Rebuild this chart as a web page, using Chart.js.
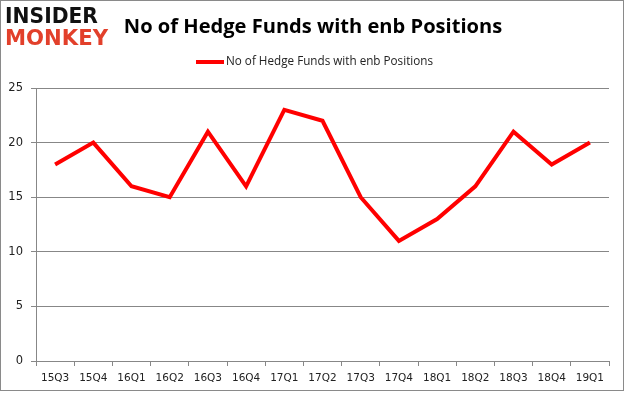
<!DOCTYPE html>
<html>
<head>
<meta charset="utf-8">
<script src="https://cdn.jsdelivr.net/npm/chart.js@4/dist/chart.umd.min.js"></script>
<style>
  html, body { margin: 0; padding: 0; background: #fff; }
  #wrap { width: 625px; height: 395px; }
</style>
</head>
<body>
<div id="wrap"><canvas id="myChart" width="625" height="395"></canvas></div>
<script>
// --- Data ---
const quarters = ["15Q3", "15Q4", "16Q1", "16Q2", "16Q3", "16Q4", "17Q1", "17Q2",
  "17Q3", "17Q4", "18Q1", "18Q2", "18Q3", "18Q4", "19Q1"];
const hedgeFunds = [18, 20, 16, 15, 21, 16, 23, 22, 15, 11, 13, 16, 21, 18, 20];
const seriesName = "No of Hedge Funds with enb Positions";
const chartTitle = "No of Hedge Funds with enb Positions";

const gridGray = "#878787";
const textColor = "#222";

// fit a string to a given width by adjusting the font size
function fitFont(ctx, text, weight, family, width) {
  ctx.font = weight + " 20px " + family;
  const w = ctx.measureText(text).width;
  return 20 * width / w;
}

// --- Decorations: border, logo, title, legend ---
const decor = {
  id: "decor",
  beforeDraw(chart) {
    const c = chart.ctx;
    c.save();
    c.fillStyle = "#fff";
    c.fillRect(0, 0, chart.width, chart.height);
    c.strokeStyle = "#8a8a8a";
    c.lineWidth = 1;
    c.strokeRect(0.5, 0.5, 623, 390);
    c.restore();
  },
  afterDraw(chart) {
    const c = chart.ctx;
    c.save();
    c.textBaseline = "middle";

    // logo
    const logoFam = "'DejaVu Sans'";
    c.textAlign = "left";
    c.fillStyle = "#111";
    let fs = fitFont(c, "INSIDER", "bold", logoFam, 93);
    c.font = "bold " + fs.toFixed(1) + "px " + logoFam;
    c.save();
    c.translate(5, 17);
    c.scale(1, 22 / fs);
    c.fillText("INSIDER", 0, 0);
    c.restore();
    c.fillStyle = "#e2402b";
    fs = fitFont(c, "MONKEY", "bold", logoFam, 103);
    c.font = "bold " + fs.toFixed(1) + "px " + logoFam;
    c.save();
    c.translate(5, 39);
    c.scale(1, 22 / fs);
    c.fillText("MONKEY", 0, 0);
    c.restore();

    // title
    const fam = "'Open Sans'";
    c.fillStyle = "#000";
    c.textAlign = "center";
    fs = fitFont(c, chartTitle, "bold", fam, 378);
    c.font = "bold " + fs.toFixed(1) + "px " + fam;
    c.fillText(chartTitle, 313, 27);

    // legend
    c.fillStyle = "#ff0000";
    c.fillRect(196, 60, 28, 4);
    c.fillStyle = textColor;
    c.textAlign = "left";
    fs = fitFont(c, seriesName, "normal", fam, 207);
    c.font = fs.toFixed(1) + "px " + fam;
    c.fillText(seriesName, 226, 62);
    c.restore();
  }
};

const ctx = document.getElementById("myChart").getContext("2d");
new Chart(ctx, {
  type: "line",
  data: {
    labels: quarters,
    datasets: [{
      label: seriesName,
      data: hedgeFunds,
      borderColor: "#ff0000",
      backgroundColor: "#ff0000",
      borderWidth: 4,
      pointRadius: 0,
      tension: 0,
      fill: false
    }]
  },
  options: {
    responsive: false,
    animation: false,
    layout: { padding: { top: 88, right: 16, bottom: 4, left: 0 } },
    plugins: {
      legend: { display: false },
      title: { display: false },
      tooltip: { enabled: false }
    },
    scales: {
      x: {
        offset: true,
        grid: {
          offset: true,
          drawOnChartArea: false,
          drawTicks: true,
          tickLength: 5,
          color: gridGray
        },
        border: { display: true, color: gridGray, width: 1 },
        ticks: {
          color: textColor,
          font: { family: "'DejaVu Sans'", size: 10.5 },
          padding: 6,
          maxRotation: 0,
          autoSkip: false
        },
        afterFit: (scale) => { scale.height = 30; }
      },
      y: {
        min: 0,
        max: 25,
        grid: {
          color: gridGray,
          tickLength: 5,
          drawTicks: true
        },
        border: { display: true, color: gridGray, width: 1 },
        ticks: {
          stepSize: 5,
          color: textColor,
          font: { family: "'DejaVu Sans'", size: 11.5 },
          padding: 8
        },
        afterFit: (scale) => { scale.width = 36; }
      }
    }
  },
  plugins: [decor]
});
</script>
</body>
</html>
